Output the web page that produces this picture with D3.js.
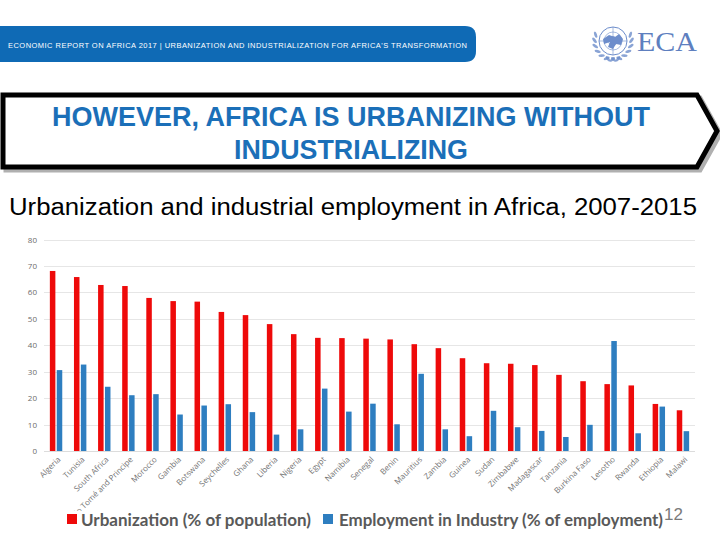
<!DOCTYPE html>
<html>
<head>
<meta charset="utf-8">
<script src="https://cdn.jsdelivr.net/npm/d3@7"></script>
<style>
  html, body { margin: 0; padding: 0; background: #fff; }
  svg { display: block; }
</style>
</head>
<body>
<svg id="chart" width="720" height="540"></svg>
<script>
const categories = ["Algeria","Tunisia","South Africa","São Tomé and Principe","Morocco","Gambia","Botswana","Seychelles","Ghana","Liberia","Nigeria","Egypt","Namibia","Senegal","Benin","Mauritius","Zambia","Guinea","Sudan","Zimbabwe","Madagascar","Tanzania","Burkina Faso","Lesotho","Rwanda","Ethiopia","Malawi"];
const urbanization = [68.1, 65.8, 62.8, 62.4, 57.9, 56.7, 56.5, 52.6, 51.4, 48.0, 44.2, 42.8, 42.7, 42.5, 42.2, 40.4, 38.9, 35.1, 33.2, 33.0, 32.5, 28.8, 26.4, 25.3, 24.8, 17.8, 15.4];
const industry = [30.6, 32.7, 24.3, 21.1, 21.5, 13.8, 17.2, 17.7, 14.7, 6.2, 8.2, 23.6, 14.9, 17.9, 10.1, 29.2, 8.2, 5.6, 15.2, 9.0, 7.6, 5.3, 9.9, 41.6, 6.7, 16.8, 7.5];
const yTicks = [0, 10, 20, 30, 40, 50, 60, 70, 80];
const seriesNames = ["Urbanization (% of population)", "Employment in Industry (% of employment)"];
const seriesKeys = ["u", "e"];
const headerText = "ECONOMIC REPORT ON AFRICA 2017  |  URBANIZATION AND INDUSTRIALIZATION FOR AFRICA'S TRANSFORMATION";
const titleLines = ["HOWEVER, AFRICA IS URBANIZING WITHOUT", "INDUSTRIALIZING"];
const subtitle = "Urbanization and industrial employment in Africa, 2007-2015";
const pageNumber = "12";

const colors = { u: "#ee0a0a", e: "#2e7ec0" };
const svg = d3.select("#chart");

// ---- header banner ----
svg.append("path")
  .attr("d", "M0,26 L465,26 Q476,26 476,37 L476,51 Q476,62 465,62 L0,62 Z")
  .attr("fill", "#0f6ab5");
svg.append("text")
  .attr("x", 8).attr("y", 47.5)
  .attr("fill", "#fff")
  .attr("font-family", "Liberation Sans Narrow, Liberation Sans, Arial, sans-serif")
  .attr("font-size", 7.5)
  .attr("textLength", 459).attr("lengthAdjust", "spacing")
  .text(headerText);

// ---- ECA logo ----
const logo = svg.append("g").attr("transform", "translate(613,41)");
const lc = "#6d8dcb";
logo.append("circle").attr("r", 14).attr("fill", "none").attr("stroke", lc).attr("stroke-width", 1);
logo.append("circle").attr("r", 9).attr("fill", "none").attr("stroke", lc).attr("stroke-width", 0.6);
logo.append("circle").attr("r", 4.5).attr("fill", "none").attr("stroke", lc).attr("stroke-width", 0.6);
logo.append("line").attr("x1", -14).attr("x2", 14).attr("stroke", lc).attr("stroke-width", 0.6);
logo.append("line").attr("y1", -14).attr("y2", 14).attr("stroke", lc).attr("stroke-width", 0.6);
logo.append("path").attr("d", "M-10,-2 L-4,-6 L2,-4 L6,-7 L10,-2 L8,4 L3,3 L0,8 L-5,6 L-3,1 L-9,3 Z").attr("fill", lc);
[-1, 1].forEach(s => {
  for (let i = 0; i < 8; i++) {
    const a = (200 - i * 18) * Math.PI / 180;
    const r = 18.5;
    const cx = s * r * Math.cos(a) * -1, cy = -r * Math.sin(a) * -1;
    logo.append("ellipse")
      .attr("cx", cx).attr("cy", cy)
      .attr("rx", 3.2).attr("ry", 1.4)
      .attr("transform", `rotate(${s * (i * 18 - 70)}, ${cx}, ${cy})`)
      .attr("fill", lc).attr("opacity", 0.8);
  }
});
svg.append("text")
  .attr("x", 637).attr("y", 51)
  .attr("fill", "#5e7fbf")
  .attr("font-family", "Liberation Serif, Times New Roman, serif")
  .attr("font-size", 27)
  .attr("textLength", 60).attr("lengthAdjust", "spacingAndGlyphs")
  .text("ECA");

// ---- title arrow box ----
const boxPts = "M3,95 L697,95 L717,131 L697,167 L3,167 Z";
svg.append("path").attr("d", boxPts).attr("transform", "translate(3,3)")
  .attr("fill", "none").attr("stroke", "#b0b0b0").attr("stroke-width", 5);
svg.append("path").attr("d", boxPts)
  .attr("fill", "#fff").attr("stroke", "#000").attr("stroke-width", 5).attr("stroke-linejoin", "miter");
const titleBase = [126, 159];
const titleLen = [598, 234];
titleLines.forEach((t, i) => {
  svg.append("text")
    .attr("x", 351).attr("y", titleBase[i])
    .attr("text-anchor", "middle")
    .attr("fill", "#1b6fb8")
    .attr("font-family", "Liberation Sans Narrow, Arial Narrow, Liberation Sans, Arial, sans-serif")
    .attr("font-weight", "bold")
    .attr("font-size", 28)
    .attr("textLength", titleLen[i]).attr("lengthAdjust", "spacingAndGlyphs")
    .text(t);
});

// ---- subtitle ----
svg.append("text")
  .attr("x", 9).attr("y", 215)
  .attr("fill", "#000")
  .attr("font-family", "Liberation Sans Narrow, Liberation Sans, Arial, sans-serif")
  .attr("font-size", 23)
  .attr("textLength", 688).attr("lengthAdjust", "spacingAndGlyphs")
  .text(subtitle);

// ---- chart ----
const x0 = d3.scaleBand().domain(categories).range([44, 695]).padding(0);
const x1 = d3.scaleBand().domain(seriesKeys).range([0, x0.bandwidth()]).paddingInner(0.2).paddingOuter(0.85);
const y = d3.scaleLinear().domain([0, 80]).range([451, 239.5]);

const grid = svg.append("g");
grid.selectAll("line").data(yTicks).join("line")
  .attr("x1", 44).attr("x2", 695)
  .attr("y1", d => Math.round(y(d)) + 0.5).attr("y2", d => Math.round(y(d)) + 0.5)
  .attr("stroke", d => d === 0 ? "#dcdcdc" : "#e6e6e6").attr("stroke-width", 1);

const yAxis = d3.axisLeft(y).tickValues(yTicks).tickSize(0).tickPadding(0);
const ya = svg.append("g").attr("transform", "translate(37,0)").call(yAxis);
ya.select(".domain").remove();
ya.selectAll("text")
  .attr("fill", "#6b6b6b")
  .attr("font-family", "Open Sans, Liberation Sans, sans-serif")
  .attr("font-size", 8);

const data = categories.map((c, i) => ({ c, u: urbanization[i], e: industry[i] }));
const groups = svg.append("g").selectAll("g").data(data).join("g")
  .attr("transform", d => `translate(${x0(d.c)},0)`);
groups.selectAll("rect").data(d => seriesKeys.map(k => ({ k, v: d[k] }))).join("rect")
  .attr("x", d => x1(d.k))
  .attr("width", x1.bandwidth())
  .attr("y", d => y(d.v))
  .attr("height", d => y(0) - y(d.v))
  .attr("fill", d => colors[d.k]);

// x labels
svg.append("clipPath").attr("id", "lblclip")
  .append("rect").attr("x", 0).attr("y", 452).attr("width", 720).attr("height", 59);
const xa = svg.append("g").attr("clip-path", "url(#lblclip)");
xa.selectAll("text").data(categories).join("text")
  .attr("transform", d => `translate(${x0(d) + x0.bandwidth() / 2 + 3},458) rotate(-45)`)
  .attr("text-anchor", "end")
  .attr("dy", "0.35em")
  .attr("fill", "#737373")
  .attr("font-family", "Open Sans, Liberation Sans, sans-serif")
  .attr("font-size", 8)
  .text(d => d);

// ---- legend ----
const legendX = [67, 323];
const legendTextX = [81, 339];
const legendLen = [230, 324];
seriesKeys.forEach((k, i) => {
  svg.append("rect").attr("x", legendX[i]).attr("y", 514).attr("width", 10).attr("height", 10).attr("fill", colors[k]);
  svg.append("text")
    .attr("x", legendTextX[i]).attr("y", 526)
    .attr("fill", "#595959")
    .attr("font-family", "Lato, Open Sans, sans-serif")
    .attr("font-weight", "bold")
    .attr("font-size", 17)
    .attr("textLength", legendLen[i]).attr("lengthAdjust", "spacingAndGlyphs")
    .text(seriesNames[i]);
});
svg.append("text")
  .attr("x", 664).attr("y", 520)
  .attr("fill", "#7a7a7a")
  .attr("font-family", "Liberation Sans, Arial, sans-serif")
  .attr("font-size", 17)
  .text(pageNumber);
</script>
</body>
</html>
